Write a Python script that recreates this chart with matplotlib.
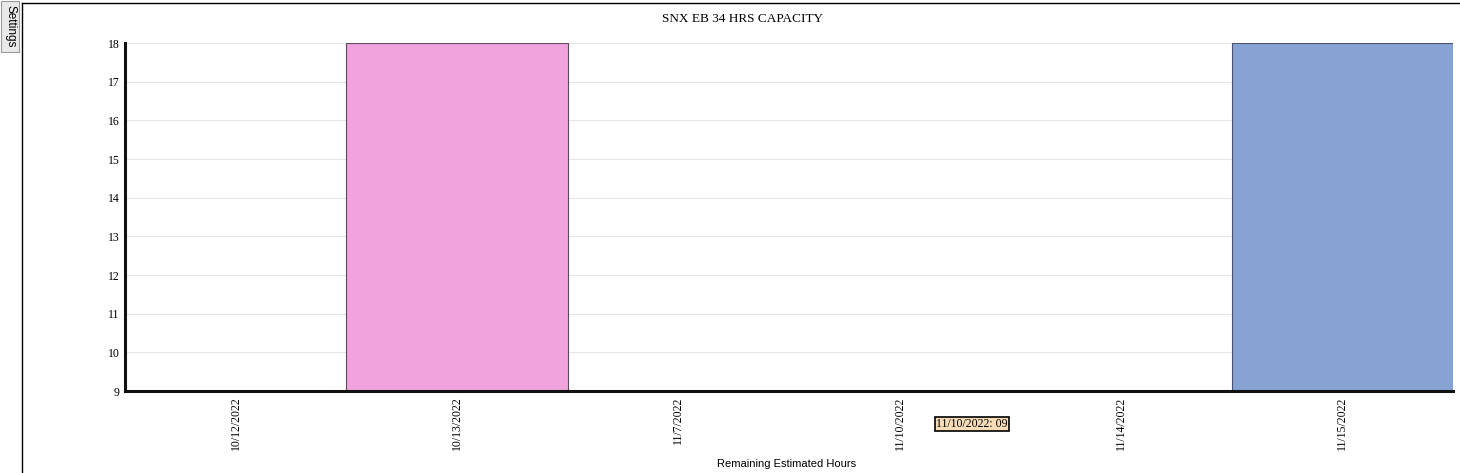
import matplotlib.pyplot as plt
from matplotlib.patches import Rectangle
from matplotlib.lines import Line2D

dates = ["10/12/2022", "10/13/2022", "11/7/2022", "11/10/2022", "11/14/2022", "11/15/2022"]
hours = [9, 18, 9, 9, 9, 18]
bar_colors = ["#f0a3dc", "#f0a3dc", "#f0a3dc", "#f0a3dc", "#f0a3dc", "#86a3d4"]
edge_colors = ["#5e4a5e", "#5e4a5e", "#5e4a5e", "#5e4a5e", "#5e4a5e", "#4a5270"]
y_ticks = [9, 10, 11, 12, 13, 14, 15, 16, 17, 18]

serif = "Liberation Serif"
sans = "Liberation Sans"

fig = plt.figure(figsize=(14.6, 4.73), dpi=100)
ax = fig.add_axes([125 / 1460, 1 - 391 / 473, 1328 / 1460, 348 / 473])

x = list(range(len(dates)))
ax.bar(x, [h - 9 for h in hours], bottom=9, width=1.0, color=bar_colors,
       edgecolor=edge_colors, linewidth=0.8, zorder=3)

ax.set_xlim(-0.5, len(dates) - 0.5)
ax.set_ylim(9, 18)
ax.set_yticks(y_ticks)
ax.set_yticklabels([str(t) for t in y_ticks], fontfamily=serif, fontsize=8.5)
ax.set_xticks(x)
ax.set_xticklabels(dates, rotation=90, fontfamily=serif, fontsize=8.5)
ax.tick_params(axis="both", length=0, pad=4)
ax.yaxis.grid(True, color="#e6e6e6", linewidth=0.8, zorder=0)
ax.set_axisbelow(True)

for side in ["top", "right"]:
    ax.spines[side].set_visible(False)
for side in ["left", "bottom"]:
    ax.spines[side].set_linewidth(2.2)
    ax.spines[side].set_color("#111111")
    ax.spines[side].set_zorder(4)

ax.set_xlabel("Remaining Estimated Hours", fontfamily=sans, fontsize=8)
ax.xaxis.set_label_coords(0.498, -0.195)

fig.text(743 / 1460, 1 - 19 / 473, "SNX EB 34 HRS CAPACITY", ha="center", va="center",
         fontfamily=serif, fontsize=9.5)

# outer chart frame
fig.add_artist(Line2D([22 / 1460, 22 / 1460], [0, 1 - 3 / 473], color="black", lw=1.0,
                      transform=fig.transFigure))
fig.add_artist(Line2D([22 / 1460, 1], [1 - 3 / 473, 1 - 3 / 473], color="black", lw=1.0,
                      transform=fig.transFigure))

# settings button
fig.add_artist(Rectangle((0.5 / 1460, 1 - 52 / 473), 18.5 / 1460, 51 / 473,
                         facecolor="#e9e9e9", edgecolor="#9a9a9a", lw=0.8,
                         transform=fig.transFigure))
fig.text(10 / 1460, 1 - 26 / 473, "Settings", rotation=270, ha="center", va="center",
         fontfamily=sans, fontsize=8.5)

# tooltip
fig.text(972 / 1460, 1 - 424 / 473, "11/10/2022: 09", ha="center", va="center",
         fontfamily=serif, fontsize=8.5,
         bbox=dict(boxstyle="square,pad=0.12", facecolor="#f7dcb8", edgecolor="black", lw=1.2))

fig.savefig("out.png", dpi=100)
